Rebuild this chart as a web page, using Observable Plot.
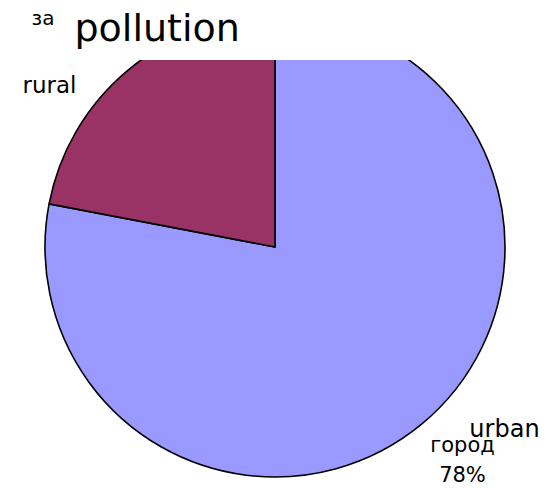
<!DOCTYPE html>
<html>
<head>
<meta charset="utf-8">
<script src="https://cdn.jsdelivr.net/npm/d3@7"></script>
<script src="https://cdn.jsdelivr.net/npm/@observablehq/plot@0.6"></script>
<style>
  html, body { margin: 0; padding: 0; background: #fff; }
  svg { font-family: "DejaVu Sans", sans-serif; }
</style>
</head>
<body>
<div id="chart"></div>
<script>
const categories = ["urban", "rural"];
const values = [78, 22];
const colors = ["#9999ff", "#993366"];
const title = "pollution";
const hiddenTitle = "за";
const subLabel = "город";
const subValue = "78%";

const data = categories.map((c, i) => ({category: c, value: values[i]}));
const arcs = d3.pie().sort(null).value(d => d.value)(data);

function pieMark(index, scales, vals, dims) {
  const cx = scales.x(275), cy = scales.y(247);
  const r = scales.x(505) - scales.x(275);
  const g = d3.create("svg:g");
  const id = "pieclip-main";
  g.append("clipPath").attr("id", id)
    .append("rect").attr("x", 0).attr("y", scales.y(60))
    .attr("width", dims.width).attr("height", dims.height);
  const arc = d3.arc().innerRadius(0).outerRadius(r);
  g.append("g").attr("clip-path", `url(#${id})`)
    .append("g").attr("transform", `translate(${cx},${cy})`)
    .selectAll("path").data(arcs).join("path")
    .attr("d", arc)
    .attr("fill", d => colors[categories.indexOf(d.data.category)])
    .attr("stroke", "#000").attr("stroke-width", 1.6)
    .attr("stroke-linejoin", "round");
  return g.node();
}

// label anchor positions from arc mid-angles
const labelR = 240;
const labels = arcs.map(a => {
  const m = (a.startAngle + a.endAngle) / 2;
  return {category: a.data.category, x: 275 + labelR * Math.sin(m), y: 247 - labelR * Math.cos(m)};
});
const urbanL = labels.filter(d => d.category === "urban");
const ruralL = labels.filter(d => d.category === "rural");

const chart = Plot.plot({
  width: 554,
  height: 488,
  margin: 0,
  x: {domain: [0, 554], range: [0, 554], axis: null},
  y: {domain: [0, 488], range: [0, 488], axis: null},
  style: {background: "#fff", fontFamily: "DejaVu Sans, sans-serif"},
  marks: [
    pieMark,
    Plot.text(ruralL, {x: "x", y: "y", text: "category", fontSize: 23, fill: "#000", dx: -73, dy: 23, textAnchor: "middle"}),
    Plot.text(urbanL, {x: "x", y: "y", text: () => subLabel + "\n" + subValue, fontSize: 21, lineHeight: 1.45, fill: "#000", dx: 34, dy: 25, textAnchor: "middle"}),
    Plot.text(urbanL, {x: "x", y: "y", text: "category", fontSize: 24, fill: "#000", dx: 76, dy: -3, textAnchor: "middle"}),
    Plot.text([hiddenTitle], {frameAnchor: "top-left", text: d => d, fontSize: 20, fill: "#000", dx: 31, dy: 10, lineAnchor: "top"}),
    Plot.text([title], {frameAnchor: "top-left", text: d => d, fontSize: 38, fill: "#000", dx: 74, dy: 14, lineAnchor: "top"})
  ]
});
document.getElementById("chart").appendChild(chart);
</script>
</body>
</html>
